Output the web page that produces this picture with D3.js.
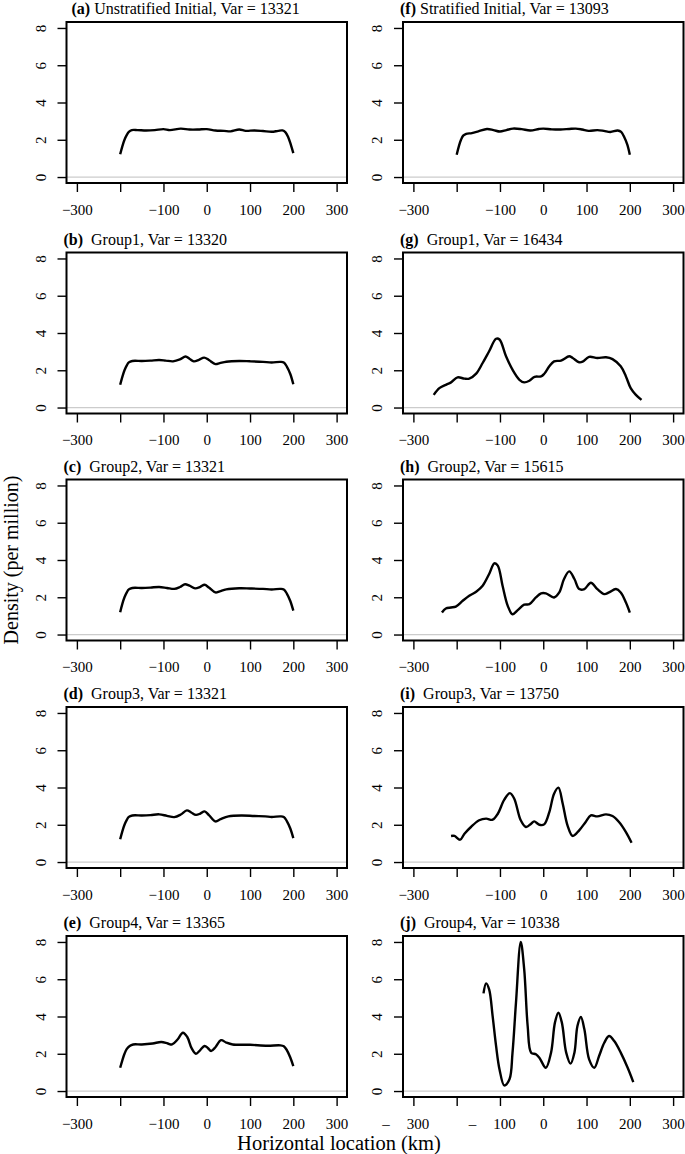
<!DOCTYPE html>
<html>
<head>
<meta charset="utf-8">
<script src="https://cdn.jsdelivr.net/npm/d3@7"></script>
<style>
  body { margin: 0; background: #fff; }
  svg text { fill: #000; }
</style>
</head>
<body>
<div id="chart"></div>
<script>
// panel titles
const letters = ['a', 'b', 'c', 'd', 'e', 'f', 'g', 'h', 'i', 'j']
const names = ['Unstratified Initial', 'Group1', 'Group2', 'Group3', 'Group4',
    'Stratified Initial', 'Group1', 'Group2', 'Group3', 'Group4']
const variances = [13321, 13320, 13321, 13321, 13365, 13093, 16434, 15615, 13750, 10338]

const xTicks = [-300, -200, -100, 0, 100, 200, 300]
const yTicks = [0, 2, 4, 6, 8]

// density curves, [location km, density per million]
const densA = [[-200,1.22],[-195,1.65],[-190,2.0],[-185,2.25],[-180,2.42],[-173,2.52],[-160,2.52],[-140,2.5],[-120,2.52],[-100,2.57],[-85,2.52],[-60,2.6],[-40,2.55],[-20,2.55],[0,2.57],[20,2.5],[40,2.48],[55,2.45],[75,2.55],[90,2.48],[110,2.5],[130,2.47],[150,2.43],[165,2.48],[175,2.5],[182,2.4],[188,2.15],[194,1.75],[200,1.28]]
const densB = [[-200,1.22],[-195,1.65],[-190,2.0],[-185,2.25],[-180,2.42],[-172,2.5],[-150,2.5],[-130,2.52],[-110,2.55],[-95,2.52],[-78,2.48],[-62,2.58],[-49,2.74],[-40,2.62],[-30,2.48],[-18,2.56],[-6,2.68],[5,2.55],[20,2.33],[30,2.38],[45,2.46],[75,2.5],[100,2.48],[130,2.45],[150,2.42],[170,2.45],[178,2.42],[185,2.2],[193,1.8],[200,1.25]]
const densC = [[-200,1.2],[-195,1.65],[-190,2.0],[-185,2.25],[-180,2.42],[-172,2.5],[-150,2.5],[-130,2.52],[-110,2.55],[-92,2.5],[-75,2.45],[-62,2.55],[-50,2.7],[-40,2.62],[-27,2.48],[-15,2.56],[-5,2.67],[5,2.52],[20,2.26],[30,2.32],[45,2.42],[75,2.48],[100,2.47],[130,2.45],[150,2.42],[170,2.45],[178,2.42],[185,2.2],[193,1.8],[200,1.28]]
const densD = [[-200,1.22],[-195,1.65],[-190,2.0],[-185,2.25],[-180,2.42],[-172,2.5],[-150,2.5],[-130,2.52],[-110,2.56],[-92,2.48],[-75,2.41],[-60,2.55],[-46,2.77],[-36,2.66],[-25,2.53],[-15,2.6],[-5,2.72],[5,2.52],[20,2.18],[32,2.3],[50,2.45],[80,2.5],[110,2.47],[135,2.45],[150,2.42],[170,2.45],[178,2.42],[185,2.2],[193,1.8],[200,1.28]]
const densE = [[-200,1.25],[-195,1.65],[-190,2.0],[-185,2.25],[-178,2.42],[-170,2.5],[-150,2.5],[-125,2.55],[-105,2.63],[-90,2.55],[-80,2.5],[-68,2.75],[-55,3.13],[-45,2.9],[-35,2.3],[-25,2.0],[-15,2.2],[-5,2.42],[3,2.3],[10,2.15],[20,2.35],[33,2.73],[45,2.6],[60,2.5],[100,2.48],[140,2.43],[170,2.45],[178,2.4],[185,2.2],[193,1.8],[200,1.34]]
const densF = [[-200,1.2],[-195,1.65],[-190,2.0],[-185,2.22],[-178,2.32],[-165,2.36],[-150,2.45],[-130,2.58],[-115,2.52],[-100,2.44],[-85,2.52],[-70,2.6],[-50,2.57],[-30,2.5],[-10,2.58],[0,2.6],[20,2.56],[40,2.55],[60,2.58],[75,2.6],[90,2.55],[105,2.48],[125,2.52],[140,2.48],[155,2.42],[172,2.5],[180,2.42],[187,2.15],[194,1.75],[200,1.2]]
const densG = [[-253,0.68],[-240,1.04],[-225,1.22],[-213,1.35],[-198,1.62],[-182,1.55],[-171,1.55],[-155,1.82],[-140,2.39],[-125,3.02],[-109,3.69],[-101,3.65],[-86,2.75],[-71,2.03],[-55,1.49],[-44,1.35],[-32,1.44],[-20,1.65],[-5,1.67],[2,1.8],[14,2.21],[25,2.48],[41,2.52],[60,2.75],[68,2.66],[83,2.43],[91,2.46],[106,2.72],[125,2.66],[145,2.7],[160,2.6],[179,2.21],[191,1.67],[202,1.04],[214,0.68],[227,0.41]]
const densH = [[-234,1.18],[-225,1.4],[-213,1.45],[-202,1.5],[-186,1.81],[-171,2.08],[-155,2.3],[-140,2.62],[-125,3.25],[-113,3.82],[-105,3.7],[-94,2.62],[-82,1.54],[-71,1.09],[-59,1.31],[-44,1.6],[-32,1.63],[-17,1.99],[-5,2.21],[6,2.21],[25,1.99],[37,2.26],[48,2.98],[60,3.39],[72,2.98],[83,2.44],[95,2.44],[110,2.78],[125,2.44],[141,2.17],[152,2.26],[168,2.44],[179,2.26],[191,1.72],[200,1.18]]
const densI = [[-213,1.4],[-205,1.4],[-192,1.2],[-182,1.52],[-167,1.88],[-148,2.24],[-132,2.33],[-117,2.27],[-105,2.59],[-90,3.35],[-77,3.7],[-67,3.4],[-52,2.24],[-40,1.88],[-28,2.06],[-21,2.18],[-9,2.0],[2,2.02],[14,2.68],[25,3.67],[35,3.99],[45,3.13],[56,1.97],[68,1.4],[83,1.7],[98,2.15],[110,2.5],[125,2.45],[145,2.56],[160,2.47],[175,2.15],[191,1.61],[204,1.04]]
const densJ = [[-138,5.24],[-132,5.78],[-125,5.46],[-117,4.03],[-109,2.42],[-101,1.16],[-90,0.3],[-78,0.63],[-71,2.06],[-63,4.74],[-52,8.0],[-44,6.53],[-36,3.49],[-28,2.06],[-17,1.97],[-9,1.79],[6,1.25],[18,2.06],[27,3.67],[35,4.2],[43,3.67],[53,2.06],[63,1.47],[72,2.06],[79,3.49],[87,3.97],[95,3.31],[106,1.7],[118,1.25],[129,1.88],[141,2.59],[152,2.95],[164,2.68],[179,2.06],[195,1.25],[208,0.48]]
const curves = [densA, densB, densC, densD, densE, densF, densG, densH, densI, densJ]

const width = 685, height = 1154
const colLeft = [66.5, 403]
const rowTop = [22, 252.5, 479.5, 707, 936]
const boxW = 280.5, boxH = 161
const serif = 'Liberation Serif'

const svg = d3.select('#chart').append('svg')
    .attr('width', width)
    .attr('height', height)
    .attr('font-family', serif)

curves.forEach(function (data, i) {
    let col = Math.floor(i / 5), row = i % 5
    let g = svg.append('g')
        .attr('transform', 'translate(' + colLeft[col] + ',' + rowTop[row] + ')')

    let x = d3.scaleLinear().domain([-324, 324]).range([0, boxW])
    let y = d3.scaleLinear().domain([-0.32, 8.32]).range([boxH, 0])

    // zero line
    g.append('line')
        .attr('x1', 0).attr('x2', boxW)
        .attr('y1', y(0)).attr('y2', y(0))
        .attr('stroke', '#cccccc').attr('stroke-width', 1.2)

    // x axis
    let xAxis = d3.axisBottom(x).tickValues(xTicks).tickSize(9).tickPadding(12)
        .tickFormat(function (d) {
            if (d == -200) return ''
            if (d < 0) return (i == 9 ? '' : '\u2212') + Math.abs(d)
            return d
        })
    let gx = g.append('g').attr('transform', 'translate(0,' + boxH + ')').call(xAxis)
        .attr('font-family', serif).attr('font-size', 15)
    gx.select('.domain').remove()
    gx.selectAll('line').attr('stroke-width', 1.4)
    if (i == 9) {
        // panel j has its minus signs set apart from the numbers
        let neg = gx.selectAll('.tick').filter(d => d < 0 && d != -200)
        neg.select('text').attr('dx', 4)
        neg.append('text')
            .attr('x', -28).attr('y', 21).attr('dy', '0.71em')
            .attr('text-anchor', 'middle')
            .text('\u2013')
    }

    // y axis, labels parallel to axis
    let yAxis = d3.axisLeft(y).tickValues(yTicks).tickSize(9).tickPadding(4)
    let gy = g.append('g').call(yAxis).attr('font-family', serif).attr('font-size', 15)
    gy.select('.domain').remove()
    gy.selectAll('line').attr('stroke-width', 1.4)
    gy.selectAll('text')
        .attr('text-anchor', 'middle')
        .attr('x', null)
        .attr('transform', 'translate(-26,0) rotate(-90)')
        .attr('y', 0).attr('dy', '0.35em')

    // density curve
    let line = d3.line()
        .x(d => x(d[0]))
        .y(d => y(d[1]))
        .curve(d3.curveCatmullRom.alpha(0.5))
    g.append('path')
        .datum(data)
        .attr('d', line)
        .attr('fill', 'none')
        .attr('stroke', '#000')
        .attr('stroke-width', 2.4)
        .attr('stroke-linejoin', 'round')

    // box
    g.append('rect')
        .attr('width', boxW).attr('height', boxH)
        .attr('fill', 'none').attr('stroke', '#000').attr('stroke-width', 2)

    // title
    let t = g.append('text')
        .attr('x', i == 0 ? 5 : -3)
        .attr('y', -8)
        .attr('font-size', 16)
    t.append('tspan').attr('font-weight', 'bold').text('(' + letters[i] + ')')
    t.append('tspan').text((i == 0 || i == 5 ? ' ' : '\u2002') + names[i] + ', Var = ' + variances[i])
})

svg.append('text')
    .attr('transform', 'translate(18,560) rotate(-90)')
    .attr('text-anchor', 'middle')
    .attr('font-size', 20)
    .text('Density (per million)')

svg.append('text')
    .attr('x', 339)
    .attr('y', 1150)
    .attr('text-anchor', 'middle')
    .attr('font-size', 20.5)
    .text('Horizontal location (km)')
</script>
</body>
</html>
